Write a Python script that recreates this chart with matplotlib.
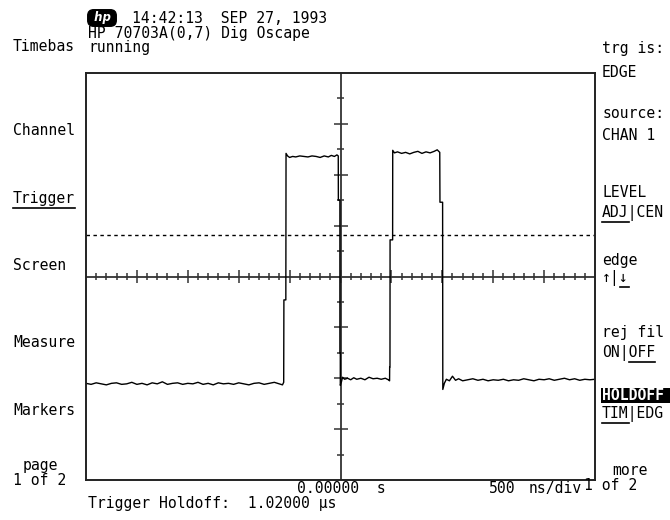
import matplotlib
matplotlib.use("Agg")
import matplotlib.pyplot as plt
from matplotlib.lines import Line2D
from matplotlib.patches import Rectangle
import numpy as np

# trace: time in ns, level in divisions
trace_t_ns = [
    -2500, -2450, -2400, -2350, -2300, -2250, -2200, -2150, -2100, -2050,
    -2000, -1950, -1900, -1850, -1800, -1750, -1700, -1650, -1600, -1550,
    -1500, -1450, -1400, -1350, -1300, -1250, -1200, -1150, -1100, -1050,
    -1000, -950, -900, -850, -800, -750, -700, -650, -600, -570, -558,
    -556, -537, -535,
    -520, -500, -470, -440, -400, -360, -320, -280, -240, -200, -160, -120,
    -90, -60, -35, -22,
    -21, -6, -6, -2, -2,
    8, 20, 40, 70, 100, 130, 160, 200, 240, 280, 320, 360, 400, 440, 470, 482,
    483, 486, 487, 512, 513,
    530, 560, 600, 640, 680, 720, 760, 800, 840, 880, 920, 950, 975,
    977, 1003, 1005,
    1020, 1040, 1070, 1100, 1130, 1160, 1200, 1250, 1300, 1350, 1400, 1450,
    1500, 1550, 1600, 1650, 1700, 1750, 1800, 1850, 1900, 1950, 2000, 2050,
    2100, 2150, 2200, 2250, 2300, 2350, 2400, 2450, 2500,
]
trace_v_div = [
    -2.10, -2.12, -2.09, -2.11, -2.13, -2.10, -2.09, -2.12, -2.11, -2.08,
    -2.12, -2.10, -2.13, -2.09, -2.11, -2.07, -2.12, -2.10, -2.09, -2.12,
    -2.10, -2.11, -2.08, -2.12, -2.10, -2.13, -2.09, -2.11, -2.10, -2.12,
    -2.09, -2.11, -2.13, -2.10, -2.09, -2.12, -2.10, -2.08, -2.11, -2.13, -2.08,
    -0.46, -0.46, 2.42,
    2.37, 2.34, 2.36, 2.35, 2.37, 2.36, 2.35, 2.37, 2.36, 2.34, 2.37, 2.35,
    2.38, 2.36, 2.39, 2.37,
    1.50, 1.50, -1.50, -1.50, -2.14,
    -2.08, -1.98, -2.02, -2.00, -2.03, -1.99, -2.02, -2.00, -2.03, -1.98, -2.01,
    -2.00, -2.02, -2.00, -2.03, -2.05,
    -1.78, -1.78, 0.72, 0.72, 2.48,
    2.43, 2.45, 2.42, 2.44, 2.41, 2.44, 2.46, 2.42, 2.45, 2.43, 2.46, 2.49, 2.44,
    1.46, 1.46, -2.22,
    -2.10, -2.02, -2.05, -1.96, -2.04, -2.01, -2.05, -2.03, -2.01, -2.04, -2.02,
    -2.05, -2.03, -2.04, -2.02, -2.05, -2.03, -2.04, -2.01, -2.03, -2.05, -2.02,
    -2.03, -2.01, -2.04, -2.02, -2.00, -2.03, -2.01, -2.04, -2.02, -2.03, -2.02,
]
trigger_level_div = 0.82

left_menu = ["Timebas", "Channel", "Trigger", "Screen", "Measure", "Markers"]
right_menu = ["trg is:", "EDGE", "source:", "CHAN 1", "LEVEL", "ADJ|CEN",
              "edge", "\u2191|\u2193", "rej fil", "ON|OFF", "HOLDOFF", "TIM|EDG"]

W, H = 670, 520
FONT = "DejaVu Sans Mono"
FS = 10.6          # ~15 px em at 100 dpi
ADV = 0.602 * FS * 100 / 72   # character advance in pixels

fig = plt.figure(figsize=(W / 100, H / 100), dpi=100)
fig.patch.set_facecolor("white")


def fx(x):
    return x / W


def fy(y):
    return 1 - y / H


def label(x, y, s, under=None, **kw):
    """text at pixel x, baseline y (top origin); under=(first, last) chars"""
    fig.text(fx(x), fy(y), s, family=FONT, fontsize=FS, ha="left",
             va="baseline", **kw)
    if under is not None:
        a, b = under
        fig.add_artist(Line2D([fx(x + a * ADV), fx(x + b * ADV)],
                              [fy(y + 5), fy(y + 5)], color="black", lw=1.2))


ax = fig.add_axes([fx(86), fy(480), fx(595) - fx(86), fy(73) - fy(480)])
ax.set_xlim(-2500, 2500)
ax.set_ylim(-4, 4)
ax.set_xticks([])
ax.set_yticks([])
for sp in ax.spines.values():
    sp.set_linewidth(1.4)
    sp.set_color("#222222")

# center graticule
ax.axhline(0, color="#333333", lw=1.3)
ax.axvline(0, color="#333333", lw=1.3)
px_x = 5000 / 509   # ns per pixel
px_y = 8 / 407      # div per pixel
minor = np.arange(-2400, 2500, 100)
minor = minor[minor % 500 != 0]
major = np.arange(-2000, 2500, 500)
ax.vlines(minor, -3.5 * px_y, 3.5 * px_y, color="#333333", lw=1.1)
ax.vlines(major, -6.5 * px_y, 6.5 * px_y, color="#333333", lw=1.1)
vmin = np.array([-3.5, -2.5, -1.5, -0.5, 0.5, 1.5, 2.5, 3.5])
vmaj = np.array([-3, -2, -1, 1, 2, 3])
ax.hlines(vmin, -3.5 * px_x, 3.5 * px_x, color="#333333", lw=1.1)
ax.hlines(vmaj, -7 * px_x, 7 * px_x, color="#333333", lw=1.1)

# trigger level
ax.axhline(trigger_level_div, color="black", lw=1.0, ls=(0, (2.5, 2.5)))

# trace
ax.plot(trace_t_ns, trace_v_div, color="black", lw=1.0)

# header
fig.text(fx(102), fy(18), " hp ", family="DejaVu Sans", fontsize=8.5,
         fontstyle="italic", fontweight="bold", color="white",
         ha="center", va="center",
         bbox=dict(boxstyle="round,pad=0.15,rounding_size=0.5",
                   fc="black", ec="black"))
label(132, 23, "14:42:13  SEP 27, 1993")
label(88, 38, "HP 70703A(0,7) Dig Oscape")
label(88, 52, "running")

# left softkeys
left_y = [51, 135, 203, 270, 347, 415]
for s, y in zip(left_menu, left_y):
    label(13, y, s, under=(0, 7) if s == "Trigger" else None)
label(23, 470, "page")
label(13, 485, "1 of 2")

# right softkeys
right_y = [53, 77, 118, 140, 197, 217, 265, 282, 337, 357, 400, 418]
right_under = {"ADJ|CEN": (0, 3), "\u2191|\u2193": (2, 3),
               "ON|OFF": (3, 6), "TIM|EDG": (0, 3)}
for s, y in zip(right_menu, right_y):
    if s == "HOLDOFF":
        fig.add_artist(Rectangle((fx(601), fy(403)), fx(69), fy(388) - fy(403),
                                 transform=fig.transFigure, fc="black",
                                 ec="none"))
        label(602, y, s, color="white", fontweight="bold")
    else:
        label(602, y, s, under=right_under.get(s))
label(612, 475, "more")
label(584, 490, "1 of 2")

# bottom readouts
label(297, 493, "0.00000  s")
label(489, 493, "500")
label(529, 493, "ns/div")
label(88, 508, "Trigger Holdoff:  1.02000 \u00b5s")

fig.savefig("out.png", dpi=100, facecolor="white")
